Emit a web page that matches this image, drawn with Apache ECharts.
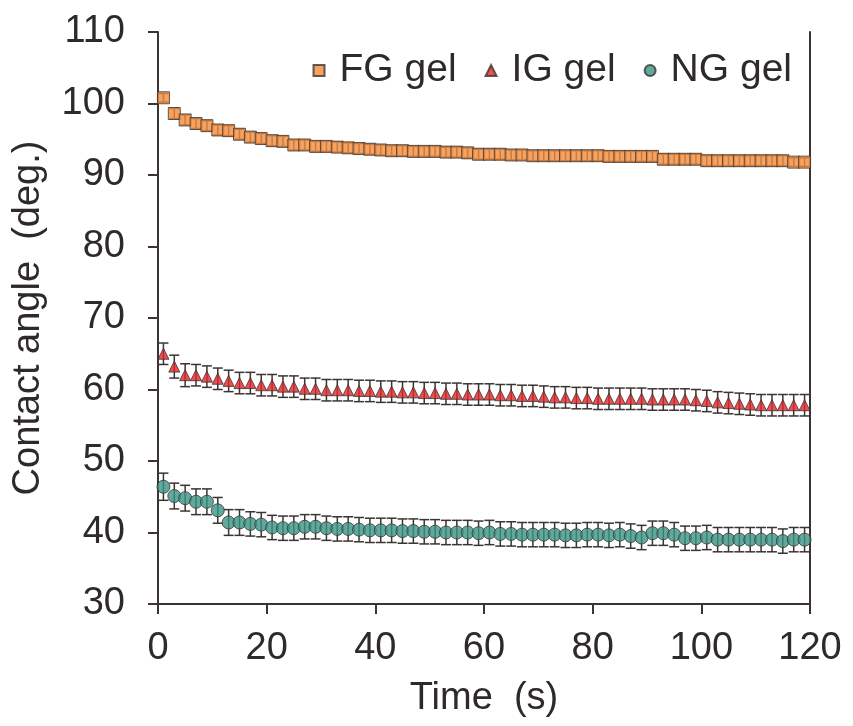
<!DOCTYPE html>
<html>
<head>
<meta charset="utf-8">
<script src="https://cdn.jsdelivr.net/npm/echarts@6/dist/echarts.min.js"></script>
<style>
html,body{margin:0;padding:0;background:#fff;}
#chart{width:853px;height:726px;}
</style>
</head>
<body>
<div id="chart"></div>
<script>
var times = [1,3,5,7,9,11,13,15,17,19,21,23,25,27,29,31,33,35,37,39,41,43,45,47,49,51,53,55,57,59,
	61,63,65,67,69,71,73,75,77,79,81,83,85,87,89,91,93,95,97,99,101,103,105,107,109,111,113,115,117,119];

var fgGel = [100.8,98.6,97.7,97.2,96.9,96.3,96.2,95.7,95.3,95.1,94.8,94.7,94.2,94.2,94.0,94.0,93.9,93.8,93.7,93.6,
	93.5,93.4,93.4,93.3,93.3,93.3,93.2,93.2,93.1,92.9,92.9,92.9,92.8,92.8,92.7,92.7,92.7,92.7,92.7,92.7,
	92.7,92.6,92.6,92.6,92.6,92.6,92.2,92.2,92.2,92.2,92.0,92.0,92.0,92.0,92.0,92.0,92.0,92.0,91.8,91.8];
var fgErr = [0.6,0.7,0.7,0.7,0.7,0.7,0.7,0.7,0.7,0.7,0.7,0.7,0.7,0.7,0.7,0.7,0.7,0.7,0.7,0.7,
	0.7,0.7,0.7,0.7,0.7,0.7,0.7,0.7,0.7,0.7,0.7,0.7,0.7,0.7,0.7,0.7,0.7,0.7,0.7,0.7,
	0.7,0.7,0.7,0.7,0.7,0.7,0.7,0.7,0.7,0.7,0.7,0.7,0.7,0.7,0.7,0.7,0.7,0.7,0.6,0.6];

var igGel = [65.0,63.2,62.0,62.0,61.8,61.5,61.2,60.9,60.9,60.6,60.6,60.4,60.4,60.1,60.1,59.9,59.9,59.9,59.8,59.8,
	59.7,59.7,59.6,59.6,59.5,59.5,59.4,59.4,59.3,59.3,59.3,59.2,59.2,59.1,59.1,59.0,58.9,58.9,58.8,58.8,
	58.7,58.7,58.7,58.7,58.7,58.6,58.6,58.6,58.6,58.5,58.4,58.2,58.1,58.0,57.9,57.8,57.8,57.8,57.8,57.8];
var igErr = [1.5,1.6,1.6,1.5,1.5,1.5,1.5,1.5,1.5,1.5,1.5,1.5,1.5,1.5,1.5,1.5,1.5,1.5,1.5,1.5,
	1.5,1.5,1.5,1.5,1.5,1.5,1.5,1.5,1.5,1.5,1.5,1.5,1.5,1.5,1.5,1.5,1.5,1.5,1.5,1.5,
	1.5,1.5,1.5,1.5,1.5,1.5,1.5,1.5,1.5,1.5,1.5,1.5,1.5,1.5,1.5,1.5,1.5,1.5,1.5,1.5];

var ngGel = [46.4,45.1,44.8,44.3,44.3,43.1,41.4,41.4,41.2,41.1,40.7,40.6,40.6,40.8,40.8,40.6,40.5,40.5,40.4,40.3,
	40.3,40.3,40.2,40.2,40.1,40.1,40.0,40.0,40.0,39.9,40.0,39.8,39.8,39.7,39.7,39.7,39.7,39.6,39.6,39.7,
	39.7,39.6,39.7,39.5,39.3,39.9,39.9,39.7,39.2,39.2,39.3,39.0,39.0,39.0,39.0,39.0,39.0,38.8,39.0,39.0];
var ngErr = [1.9,1.8,1.8,1.8,1.8,1.8,1.8,1.8,1.7,1.7,1.7,1.7,1.7,1.7,1.7,1.7,1.7,1.7,1.7,1.7,
	1.7,1.7,1.7,1.7,1.7,1.7,1.7,1.7,1.7,1.7,1.7,1.7,1.7,1.7,1.7,1.7,1.7,1.7,1.7,1.7,
	1.7,1.7,1.7,1.7,1.7,1.7,1.7,1.7,1.7,1.7,1.7,1.7,1.7,1.7,1.7,1.7,1.7,1.7,1.7,1.7];

var xTicks = [0,20,40,60,80,100,120];
var yTicks = [30,40,50,60,70,80,90,100,110];

var ink = '#3b3432';
var textColor = '#2e2a29';
var fontSize = 38;

function pairs(vals){
	return times.map(function(t, i){ return [t, vals[i]]; });
}
function errData(vals, errs){
	return times.map(function(t, i){ return [t, vals[i] - errs[i], vals[i] + errs[i]]; });
}
function renderErr(params, api){
	var lo = api.coord([api.value(0), api.value(1)]);
	var hi = api.coord([api.value(0), api.value(2)]);
	var half = 5;
	var st = {stroke: ink, lineWidth: 1.5};
	return {
		type: 'group',
		children: [
			{type: 'line', shape: {x1: lo[0], y1: lo[1], x2: hi[0], y2: hi[1]}, style: st},
			{type: 'line', shape: {x1: lo[0] - half, y1: lo[1], x2: lo[0] + half, y2: lo[1]}, style: st},
			{type: 'line', shape: {x1: hi[0] - half, y1: hi[1], x2: hi[0] + half, y2: hi[1]}, style: st}
		]
	};
}
function errSeries(vals, errs){
	return {
		type: 'custom',
		renderItem: renderErr,
		data: errData(vals, errs),
		encode: {x: 0, y: [1, 2]},
		z: 1,
		silent: true
	};
}
function markSeries(name, vals, symbol, size, color){
	return {
		name: name,
		type: 'scatter',
		symbol: symbol,
		symbolSize: size,
		data: pairs(vals),
		itemStyle: {color: color, borderColor: ink, borderWidth: 1},
		z: 3
	};
}

var chart = echarts.init(document.getElementById('chart'));
var option = {
	animation: false,
	backgroundColor: '#fff',
	grid: {left: 158, right: 43, top: 32, bottom: 122},
	legend: {
		right: 56,
		top: 46,
		itemWidth: 11,
		itemHeight: 11,
		itemGap: 28,
		textStyle: {fontFamily: 'Liberation Sans', fontSize: 39, color: textColor, padding: [0, 0, 0, 10]},
		data: [
			{name: 'FG gel', icon: 'rect'},
			{name: 'IG gel', icon: 'triangle'},
			{name: 'NG gel', icon: 'circle'}
		]
	},
	xAxis: {
		type: 'value',
		min: 0,
		max: 120,
		interval: 20,
		name: 'Time  (s)',
		nameLocation: 'middle',
		nameGap: 76,
		nameTextStyle: {fontFamily: 'Liberation Sans', fontSize: fontSize, color: textColor},
		axisLine: {show: true, lineStyle: {color: ink, width: 2}},
		axisTick: {show: true, inside: false, length: 10, lineStyle: {color: ink, width: 2}},
		axisLabel: {fontFamily: 'Liberation Sans', fontSize: fontSize, color: textColor, margin: 26,
			formatter: function(v){ return xTicks.indexOf(v) >= 0 ? String(v) : ''; }},
		splitLine: {show: false}
	},
	yAxis: [{
		type: 'value',
		min: 30,
		max: 110,
		interval: 10,
		name: 'Contact angle  (deg.)',
		nameLocation: 'middle',
		nameGap: 110,
		nameRotate: 90,
		nameTextStyle: {fontFamily: 'Liberation Sans', fontSize: fontSize, color: textColor},
		axisLine: {show: true, lineStyle: {color: ink, width: 2}},
		axisTick: {show: true, inside: false, length: 10, lineStyle: {color: ink, width: 2}},
		axisLabel: {fontFamily: 'Liberation Sans', fontSize: fontSize, color: textColor, margin: 33,
			formatter: function(v){ return yTicks.indexOf(v) >= 0 ? String(v) : ''; }},
		splitLine: {show: false}
	}, {
		type: 'value',
		min: 30,
		max: 110,
		interval: 10,
		position: 'right',
		axisLine: {show: true, lineStyle: {color: ink, width: 2}},
		axisTick: {show: false},
		axisLabel: {show: false},
		splitLine: {show: false}
	}],
	series: [
		errSeries(fgGel, fgErr),
		errSeries(igGel, igErr),
		errSeries(ngGel, ngErr),
		markSeries('FG gel', fgGel, 'rect', 12, '#f28c3c'),
		markSeries('IG gel', igGel, 'triangle', 11, '#e3262a'),
		markSeries('NG gel', ngGel, 'circle', 13, '#3a9385')
	]
};
chart.setOption(option);
</script>
</body>
</html>
